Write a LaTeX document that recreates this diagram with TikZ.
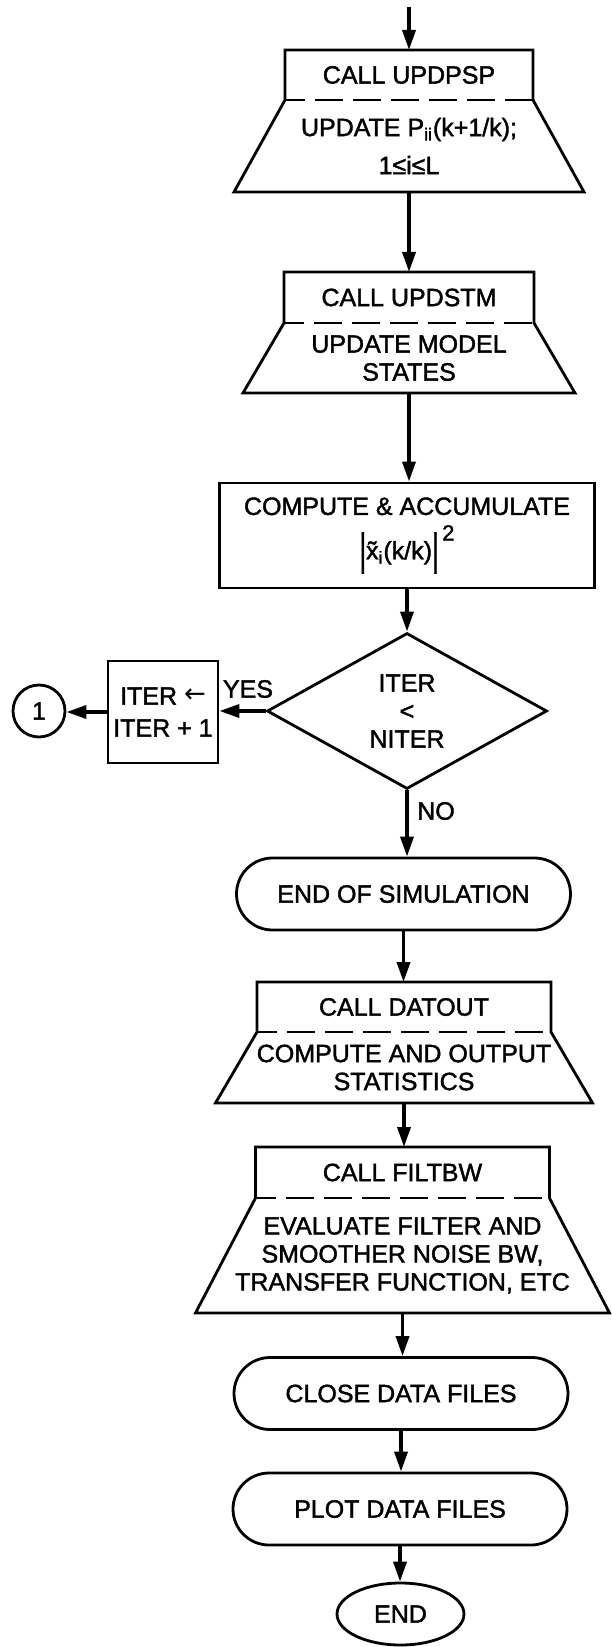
\documentclass[tikz,border=0pt]{standalone}
\usepackage{fontspec}
\setmainfont{Liberation Sans}[FakeBold=1.6]
\newfontfamily\arrowfont{DejaVu Sans}
\usepackage{graphicx}
\usetikzlibrary{arrows.meta,shapes.geometric,fit}

% tall absolute-value bar for the accumulated error term
\newcommand\tallbar{\raisebox{-0.2em}{\scalebox{1}[1.75]{|}}}
% assignment arrow inside the counter box
\newcommand\assignarrow{\raisebox{0.1em}{{\arrowfont\fontsize{13}{13}\selectfont ←}}}

% subroutine call: box with the call on top, dashed divider, trapezoid with the body
% #1 name, #2 centre x, #3 top, #4 divider, #5 bottom,
% #6 half width of the call box, #7 half width of the base, #8 call text, #9 body text
\newcommand\callblock[9]{%
  \coordinate (#1-nw) at ({#2-#7},#3);
  \coordinate (#1-se) at ({#2+#7},#5);
  \node[blockframe, fit=(#1-nw)(#1-se)] (#1) {};
  \draw[outline] ({#2-#6},#4) -- ({#2-#6},#3) -- ({#2+#6},#3)
     -- ({#2+#6},#4) -- ({#2+#7},#5) -- ({#2-#7},#5) -- cycle;
  \draw[divider] ({#2-#6},#4) -- ({#2+#6},#4);
  \node[txt] (#1-call) at (#2,{(#3+#4)/2}) {#8};
  \node[txt] (#1-body) at (#2,{(#4+#5)/2}) {#9};
}

\tikzset{
  outline/.style={draw, line width=1.4pt, line join=miter},
  divider/.style={line width=1.4pt, dash pattern=on 14pt off 5pt, dash phase=4pt},
  flow/.style={line width=1.8pt, -{Triangle[length=10pt,width=6.5pt]}},
  txt/.style={font=\fontsize{12.5}{14}\selectfont, align=center, inner sep=0pt},
  blockframe/.style={inner sep=0pt, outer sep=0pt},
  terminal/.style={outline, txt, rectangle, rounded corners=18pt,
                   minimum width=167pt, minimum height=36pt},
}

\begin{document}
\begin{tikzpicture}[x=0.5pt, y=-0.5pt]
\useasboundingbox (0,0) rectangle (611,1647);

\coordinate (entry) at (409,7);

\callblock{psp}{409}{50}{100}{192}{124}{175}{CALL UPDPSP}
  {UPDATE P\textsubscript{ii}(k+1/k);\\[5pt]1≤i≤L}

\callblock{stm}{409}{272}{323}{393}{125}{166}{CALL UPDSTM}
  {UPDATE MODEL\\STATES}

\node[outline, txt, minimum width=187.5pt, minimum height=52.5pt] (acc) at (407,535.5)
  {COMPUTE \& ACCUMULATE\\[4pt]\tallbar x̃\textsubscript{i}(k/k)\tallbar\raisebox{0.75em}{\fontsize{11}{11}\selectfont\,2}};

\node[outline, txt, diamond, aspect=1.8, minimum width=140pt, minimum height=78pt] (test) at (407,711)
  {ITER\\<\\NITER};

\node[outline, txt, minimum width=55pt, minimum height=51pt] (incr) at (163,712)
  {ITER \assignarrow\\[2pt]ITER + 1};

\node[outline, txt, circle, minimum size=26pt] (conn) at (39,711) {1};

\node[txt] (yes) at (248,689) {YES};
\node[txt] (no) at (436,811) {NO};

\node[terminal] (endsim) at (403.5,894) {END OF SIMULATION};

\callblock{dat}{404}{982}{1032}{1103}{147}{188.5}{CALL DATOUT}
  {COMPUTE AND OUTPUT\\STATISTICS}

\callblock{flt}{402.5}{1147}{1198}{1313}{147}{207}{CALL FILTBW}
  {EVALUATE FILTER AND\\SMOOTHER NOISE BW,\\TRANSFER FUNCTION, ETC}

\node[terminal] (close) at (401,1393.5) {CLOSE DATA FILES};
\node[terminal] (plot) at (400,1509) {PLOT DATA FILES};

\node[outline, txt, ellipse, minimum width=63.5pt, minimum height=31pt] (finish) at (400.5,1614) {END};

% connectors
\draw[flow] (entry) -- (psp.north);
\draw[flow] (psp.south) -- (psp.south |- stm.north);
\draw[flow] (stm.south) -- (stm.south |- acc.north);
\draw[flow] (acc.south) -- (acc.south |- test.north);
\draw[flow] (test.west) -- (test.west -| incr.east);
\draw[flow] (incr.west) -- (incr.west -| conn.east);
\draw[flow] (test.south) -- (test.south |- endsim.north);
\draw[flow] (endsim.south) -- (endsim.south |- dat.north);
\draw[flow] (dat.south) -- (dat.south |- flt.north);
\draw[flow] (flt.south) -- (flt.south |- close.north);
\draw[flow] (close.south) -- (close.south |- plot.north);
\draw[flow] (plot.south) -- (plot.south |- finish.north);
\end{tikzpicture}
\end{document}
